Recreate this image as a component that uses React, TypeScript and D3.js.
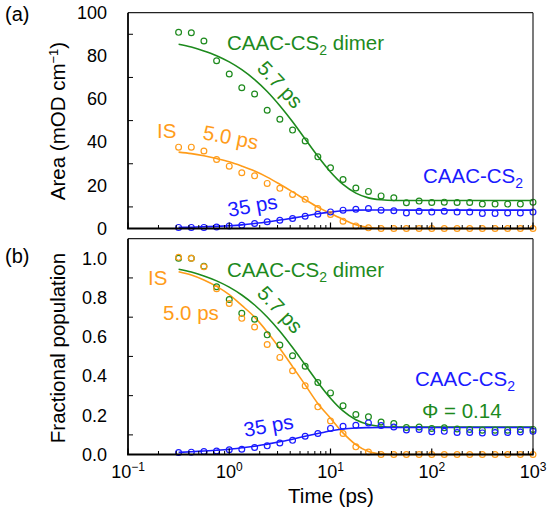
import React from 'react';
import * as d3 from 'd3';

// time points (ps), 8 per decade
const times = [0.316, 0.422, 0.562, 0.75, 1, 1.33, 1.78, 2.37, 3.16, 4.22, 5.62, 7.5, 10, 13.3, 17.8, 23.7, 31.6, 42.2, 56.2, 75, 100, 133, 178, 237, 316, 422, 562, 750, 1000];

// (a) band areas, mOD cm-1
const dimerArea = [90.9, 90.7, 86.9, 77.7, 71.6, 65.2, 62.3, 54.8, 50.6, 45.6, 40.6, 33.2, 28.1, 22.7, 18.8, 17.2, 15.1, 14.2, 11.9, 12.7, 12.1, 12.2, 12.1, 12.1, 11.3, 11.3, 11.3, 11.3, 12.2];
const isArea = [37.7, 37.7, 35.9, 32.0, 28.9, 25.8, 24.4, 20.9, 18.6, 15.8, 13.5, 9.3, 6.5, 3.4, 1.2, 0.3, 0, 0, 0, 0, 0, 0, 0, 0, 0, 0, 0, 0, 0];
const monoArea = [0.5, 0.5, 0.5, 0.7, 1.2, 1.5, 2.3, 3.1, 3.8, 4.6, 5.7, 6.6, 7.7, 8.5, 8.9, 9.3, 8.5, 8.2, 7.2, 8.0, 7.6, 8.0, 7.6, 7.6, 7.0, 7.0, 7.2, 7.2, 7.6];
const dimerAreaFit = [85.4, 84.1, 82.3, 80.1, 77.2, 73.6, 69.0, 63.5, 56.9, 49.5, 41.5, 33.5, 26.2, 20.4, 16.4, 14.2, 13.3, 13, 13, 13, 13, 13, 13, 13, 13, 13, 13, 13, 13];
const isAreaFit = [35.4, 34.7, 33.7, 32.4, 30.9, 28.9, 26.6, 23.8, 20.5, 17.0, 13.4, 9.9, 7.0, 4.2, 1.8, 0.5, 0.1, 0, 0, 0, 0, 0, 0, 0, 0, 0, 0, 0, 0];
const monoAreaFit = [0.5, 0.6, 0.8, 1.0, 1.3, 1.7, 2.3, 3.0, 3.9, 4.8, 5.8, 6.8, 7.6, 8.2, 8.5, 8.6, 8.6, 8.6, 8.5, 8.5, 8.5, 8.5, 8.5, 8.5, 8.5, 8.5, 8.5, 8.5, 8.5];

// (b) fractional populations
const dimerPop = [1.0, 1.0, 0.96, 0.855, 0.79, 0.72, 0.69, 0.61, 0.558, 0.503, 0.45, 0.367, 0.314, 0.248, 0.204, 0.192, 0.166, 0.158, 0.138, 0.14, 0.133, 0.136, 0.13, 0.128, 0.124, 0.124, 0.124, 0.128, 0.128];
const isPop = [1.005, 1.0, 0.957, 0.845, 0.77, 0.694, 0.65, 0.561, 0.495, 0.427, 0.35, 0.243, 0.171, 0.107, 0.039, 0.013, 0, 0, 0, 0, 0, 0, 0, 0, 0, 0, 0, 0, 0];
const monoPop = [0.01, 0.012, 0.015, 0.018, 0.024, 0.027, 0.036, 0.044, 0.059, 0.072, 0.093, 0.107, 0.133, 0.144, 0.149, 0.161, 0.148, 0.14, 0.125, 0.128, 0.116, 0.118, 0.112, 0.112, 0.11, 0.112, 0.112, 0.115, 0.118];
const dimerPopFit = [0.944, 0.93, 0.91, 0.885, 0.853, 0.813, 0.762, 0.701, 0.628, 0.545, 0.457, 0.368, 0.287, 0.222, 0.177, 0.153, 0.143, 0.14, 0.14, 0.14, 0.14, 0.14, 0.14, 0.14, 0.14, 0.14, 0.14, 0.14, 0.14];
const isPopFit = [0.932, 0.915, 0.89, 0.857, 0.815, 0.76, 0.70, 0.625, 0.54, 0.448, 0.355, 0.26, 0.185, 0.11, 0.05, 0.015, 0.003, 0, 0, 0, 0, 0, 0, 0, 0, 0, 0, 0, 0];
const monoPopFit = [0.011, 0.014, 0.018, 0.022, 0.027, 0.034, 0.042, 0.053, 0.065, 0.078, 0.093, 0.107, 0.12, 0.13, 0.135, 0.137, 0.138, 0.138, 0.138, 0.138, 0.138, 0.138, 0.138, 0.138, 0.138, 0.138, 0.138, 0.138, 0.138];

const xTickValues = [0.1, 1, 10, 100, 1000];
const xTickExps = ['\u22121', '0', '1', '2', '3'];
const areaTicks = [0, 20, 40, 60, 80, 100];
const areaMinor = [10, 30, 50, 70, 90];
const popTicks = [0, 0.2, 0.4, 0.6, 0.8, 1.0];
const popMinor = [0.1, 0.3, 0.5, 0.7, 0.9];

const GREEN = '#1d8a1d';
const ORANGE = '#ff9c1a';
const BLUE = '#1a1aff';
const FONT = '"Liberation Sans", Arial, sans-serif';

const left = 128, right = 533;
const x = d3.scaleLog().domain([0.1, 1000]).range([left, right]);
const yA = d3.scaleLinear().domain([0, 100]).range([228.5, 12.7]);
const yB = d3.scaleLinear().domain([0, 1.1]).range([454.5, 238.7]);

const minorX: number[] = [];
[0.1, 1, 10, 100].forEach(d => [2, 3, 4, 5, 6, 7, 8, 9].forEach(k => minorX.push(k * d)));

type Series = { pts: number[]; fit: number[]; color: string };

function Panel({ y, series, ticks, minor, fmt }: { y: d3.ScaleLinear<number, number>; series: Series[]; ticks: number[]; minor: number[]; fmt: (v: number) => string }) {
    const [y0, y1] = y.range();
    const line = d3.line<number>().x((_, i) => x(times[i])).y(v => y(v)).curve(d3.curveMonotoneX);
    return (
        <g>
            {series.map((s, k) => <path key={'f' + k} d={line(s.fit) || ''} fill="none" stroke={s.color} strokeWidth={1.6} />)}
            {series.map((s, k) => (
                <g key={'p' + k}>
                    {s.pts.map((v, i) => <circle key={i} cx={x(times[i])} cy={y(v)} r={2.9} fill="none" stroke={s.color} strokeWidth={1.2} />)}
                </g>
            ))}
            {/* frame */}
            <line x1={left} x2={right} y1={y1} y2={y1} stroke="#222" strokeWidth={1.2} />
            <line x1={right} x2={right} y1={y1} y2={y0} stroke="#222" strokeWidth={1.2} />
            <line x1={left} x2={left} y1={y1} y2={y0} stroke="#000" strokeWidth={1.8} />
            <line x1={left - 0.9} x2={right + 0.6} y1={y0} y2={y0} stroke="#000" strokeWidth={1.8} />
            {xTickValues.map(t => <line key={'M' + t} x1={x(t)} x2={x(t)} y1={y0} y2={y0 - 6} stroke="#000" strokeWidth={1.2} />)}
            {minorX.map(t => <line key={'m' + t} x1={x(t)} x2={x(t)} y1={y0} y2={y0 - 3.5} stroke="#000" strokeWidth={1} />)}
            {minor.map(v => <line key={'ym' + v} x1={left} x2={left + 5} y1={y(v)} y2={y(v)} stroke="#000" strokeWidth={1} />)}
            {ticks.map(v => <text key={'yl' + v} x={107} y={y(v)} dy="0.35em" textAnchor="end" fontSize={18}>{fmt(v)}</text>)}
        </g>
    );
}

function Sub({ base, sub, ...rest }: any) {
    return (
        <text {...rest}>{base}<tspan fontSize={14} dy={5}>{sub}</tspan></text>
    );
}

export default function App() {
    const fmtA = d3.format('d');
    const fmtB = d3.format('.1f');
    return (
        <svg width={550} height={515} viewBox="0 0 550 515" style={{ position: 'absolute', left: 0, top: 0, background: '#fff' }} fontFamily={FONT}>
            <Panel y={yA} ticks={areaTicks} minor={areaMinor} fmt={fmtA}
                series={[{ pts: dimerArea, fit: dimerAreaFit, color: GREEN }, { pts: isArea, fit: isAreaFit, color: ORANGE }, { pts: monoArea, fit: monoAreaFit, color: BLUE }]} />
            <Panel y={yB} ticks={popTicks} minor={popMinor} fmt={fmtB}
                series={[{ pts: dimerPop, fit: dimerPopFit, color: GREEN }, { pts: isPop, fit: isPopFit, color: ORANGE }, { pts: monoPop, fit: monoPopFit, color: BLUE }]} />

            {/* x tick labels */}
            {xTickValues.map((t, i) => (
                <text key={t} x={x(t)} y={478} textAnchor="middle" fontSize={18}>10<tspan dy={-7} fontSize={12}>{xTickExps[i]}</tspan></text>
            ))}

            {/* axis titles */}
            <text x={331} y={503} textAnchor="middle" fontSize={20.5}>Time (ps)</text>
            <text transform="translate(65,121) rotate(-90)" textAnchor="middle" fontSize={20.5}>Area (mOD cm<tspan dy={-7} fontSize={13}>{'\u22121'}</tspan><tspan dy={7}>)</tspan></text>
            <text transform="translate(65,348) rotate(-90)" textAnchor="middle" fontSize={20.5}>Fractional population</text>

            {/* panel (a) annotations */}
            <text x={5} y={21} fontSize={20}>(a)</text>
            <text x={227} y={50} fontSize={20.5} fill={GREEN}>CAAC-CS<tspan fontSize={14} dy={5}>2</tspan><tspan dy={-5}> dimer</tspan></text>
            <text transform="translate(256,69) rotate(47)" fontSize={20.5} fill={GREEN}>5.7 ps</text>
            <text x={157} y={138} fontSize={20.5} fill={ORANGE}>IS</text>
            <text transform="translate(202,139) rotate(11)" fontSize={20.5} fill={ORANGE}>5.0 ps</text>
            <text transform="translate(229,217) rotate(-10)" fontSize={20.5} fill={BLUE}>35 ps</text>
            <Sub x={423} y={183} fontSize={20.5} fill={BLUE} base="CAAC-CS" sub="2" />

            {/* panel (b) annotations */}
            <text x={5} y={263} fontSize={20}>(b)</text>
            <text x={148} y={285} fontSize={20.5} fill={ORANGE}>IS</text>
            <text x={163} y={320} fontSize={20.5} fill={ORANGE}>5.0 ps</text>
            <text x={227} y={277} fontSize={20.5} fill={GREEN}>CAAC-CS<tspan fontSize={14} dy={5}>2</tspan><tspan dy={-5}> dimer</tspan></text>
            <text transform="translate(256,294) rotate(47)" fontSize={20.5} fill={GREEN}>5.7 ps</text>
            <text transform="translate(245,437) rotate(-10)" fontSize={20.5} fill={BLUE}>35 ps</text>
            <Sub x={415} y={386} fontSize={20.5} fill={BLUE} base="CAAC-CS" sub="2" />
            <text x={422} y={418} fontSize={20.5} fill={GREEN}>Φ = 0.14</text>
        </svg>
    );
}
